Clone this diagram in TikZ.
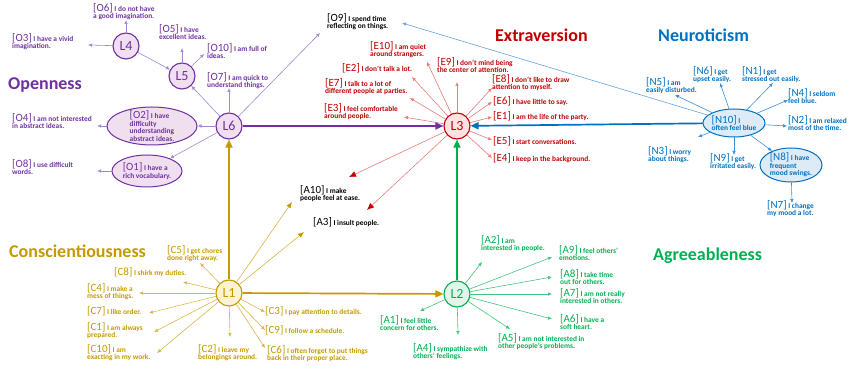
\documentclass[tikz,border=0pt]{standalone}
\usepackage{fontspec}
\setmainfont{Carlito}
\usetikzlibrary{arrows.meta, shapes.geometric}
\definecolor{ope}{HTML}{7030A0}
\definecolor{opl}{HTML}{A386D2}
\definecolor{opf}{HTML}{F0DFEF}
\definecolor{ext}{HTML}{C00000}
\definecolor{exl}{HTML}{E57C7C}
\definecolor{exf}{HTML}{FDE3E3}
\definecolor{neu}{HTML}{0070C0}
\definecolor{nel}{HTML}{3D8FD4}
\definecolor{nef}{HTML}{DDEBF7}
\definecolor{con}{HTML}{C49A00}
\definecolor{col}{HTML}{D9B64C}
\definecolor{cof}{HTML}{FFF4D0}
\definecolor{agr}{HTML}{00B050}
\definecolor{agl}{HTML}{45C47A}
\definecolor{agf}{HTML}{E3F5EA}
\newcommand{\ilab}[1]{\raisebox{0pt}[\height][0pt]{\mdseries\fontsize{11}{11}\selectfont[#1]}}
\tikzset{
  lat/.style={circle, line width=1.1pt, minimum size=26pt, inner sep=0pt, font=\fontsize{14}{14}\selectfont},
  itm/.style={anchor=north west, inner sep=0pt, align=left, font=\bfseries\fontsize{7.4}{7.6}\selectfont},
  ell/.style={ellipse, line width=1pt, inner sep=0pt},
  ttl/.style={anchor=base west, inner sep=0pt, font=\bfseries\fontsize{18}{18}\selectfont},
  arr/.style={-{Latex[length=4pt,width=3.6pt]}, line width=0.6pt},
  hvy/.style={-{Triangle[length=8pt,width=7pt]}, line width=1.7pt},
}

\begin{document}
\begin{tikzpicture}[x=1pt, y=-1pt]
  \useasboundingbox (0,0) rectangle (849,379);

  % Nadpisy
  \node[ttl, text=ope] (tO) at (8,90) {Openness};
  \node[ttl, text=ext] (tE) at (495,42) {Extraversion};
  \node[ttl, text=neu] (tN) at (658,42) {Neuroticism};
  \node[ttl, text=con] (tC) at (9,258) {Conscientiousness};
  \node[ttl, text=agr] (tA) at (653,261) {Agreeableness};

  % Latentni uzly
  \node[lat, draw=ope, fill=opf, text=ope] (L4) at (126,46) {L4};
  \node[lat, draw=ope, fill=opf, text=ope] (L5) at (182,76) {L5};
  \node[lat, draw=ope, fill=opf, text=ope] (L6) at (229,126) {L6};
  \node[lat, draw=ext, fill=exf, text=ext] (L3) at (457,126) {L3};
  \node[lat, draw=con, fill=cof, text=con] (L1) at (229,293) {L1};
  \node[lat, draw=agr, fill=agf, text=agr] (L2) at (457,294) {L2};

  % Elipsy
  \node[ell, draw=ope, fill=opf, minimum width=90pt, minimum height=38pt] (O2) at (152,126) {};
  \node[itm, anchor=center, text=ope] (o2) at (O2) {\ilab{O2} I have\\difficulty\\understanding\\abstract ideas.};
  \node[ell, draw=ope, fill=opf, minimum width=70pt, minimum height=32pt] (O1) at (147,171) {};
  \node[itm, anchor=center, text=ope] (o1) at (O1) {\ilab{O1} I have a\\rich vocabulary.};
  \node[ell, draw=neu, fill=nef, minimum width=62pt, minimum height=28pt] (N10) at (734,123) {};
  \node[itm, anchor=center, text=neu] (n10) at (N10) {\ilab{N10} I\\often feel blue};
  \node[ell, draw=neu, fill=nef, minimum width=62pt, minimum height=34pt] (N8) at (791,165) {};
  \node[itm, anchor=center, text=neu] (n8) at (N8) {\ilab{N8} I have\\frequent\\mood swings.};

  % Openness
  \node[itm, text=ope] (o6) at (93,3) {\ilab{O6} I do not have\\a good imagination.};
  \node[itm, text=ope] (o3) at (12,33) {\ilab{O3} I have a vivid\\imagination.};
  \node[itm, text=ope] (o5) at (159,24) {\ilab{O5} I have\\excellent ideas.};
  \node[itm, text=ope] (o10) at (207,43) {\ilab{O10} I am full of\\ideas.};
  \node[itm, text=ope] (o7) at (207,72) {\ilab{O7} I am quick to\\understand things.};
  \node[itm, text=ope] (o4) at (12,113) {\ilab{O4} I am not interested\\in abstract ideas.};
  \node[itm, text=ope] (o8) at (12,159) {\ilab{O8} I use difficult\\words.};
  \node[itm] (o9) at (327,13) {\ilab{O9} I spend time\\reflecting on things.};

  % Extraversion
  \node[itm, text=ext] (e10) at (370,41) {\ilab{E10} I am quiet\\around strangers.};
  \node[itm, text=ext] (e9) at (437,57) {\ilab{E9} I don't mind being\\the center of attention.};
  \node[itm, text=ext] (e2) at (342,63) {\ilab{E2} I don't talk a lot.};
  \node[itm, text=ext] (e7) at (325,78) {\ilab{E7} I talk to a lot of\\different people at parties.};
  \node[itm, text=ext] (e3) at (324,103) {\ilab{E3} I feel comfortable\\around people.};
  \node[itm, text=ext] (e8) at (492,74) {\ilab{E8} I don't like to draw\\attention to myself.};
  \node[itm, text=ext] (e6) at (493,96) {\ilab{E6} I have little to say.};
  \node[itm, text=ext] (e1) at (493,111) {\ilab{E1} I am the life of the party.};
  \node[itm, text=ext] (e5) at (493,136) {\ilab{E5} I start conversations.};
  \node[itm, text=ext] (e4) at (493,153) {\ilab{E4} I keep in the background.};
  \node[itm] (a10) at (300,185) {\ilab{A10} I make\\people feel at ease.};
  \node[itm] (a3) at (313,217) {\ilab{A3} I insult people.};

  % Neuroticism
  \node[itm, text=neu] (n6) at (693,66) {\ilab{N6} I get\\upset easily.};
  \node[itm, text=neu] (n1) at (742,66) {\ilab{N1} I get\\stressed out easily.};
  \node[itm, text=neu] (n5) at (646,77) {\ilab{N5} I am\\easily disturbed.};
  \node[itm, text=neu] (n4) at (788,88) {\ilab{N4} I seldom\\feel blue.};
  \node[itm, text=neu] (n2) at (788,115) {\ilab{N2} I am relaxed\\most of the time.};
  \node[itm, text=neu] (n3) at (648,146) {\ilab{N3} I worry\\about things.};
  \node[itm, text=neu] (n9) at (710,153) {\ilab{N9} I get\\irritated easily.};
  \node[itm, text=neu] (n7) at (767,200) {\ilab{N7} I change\\my mood a lot.};

  % Agreeableness
  \node[itm, text=agr] (a2) at (481,235) {\ilab{A2} I am\\interested in people.};
  \node[itm, text=agr] (a9) at (559,245) {\ilab{A9} I feel others'\\emotions.};
  \node[itm, text=agr] (a8) at (560,269) {\ilab{A8} I take time\\out for others.};
  \node[itm, text=agr] (a7) at (560,288) {\ilab{A7} I am not really\\interested in others.};
  \node[itm, text=agr] (a6) at (560,314) {\ilab{A6} I have a\\soft heart.};
  \node[itm, text=agr] (a5) at (498,333) {\ilab{A5} I am not interested in\\other people's problems.};
  \node[itm, text=agr] (a4) at (413,343) {\ilab{A4} I sympathize with\\others' feelings.};
  \node[itm, text=agr] (a1) at (380,315) {\ilab{A1} I feel little\\concern for others.};

  % Conscientiousness
  \node[itm, text=con] (c5) at (167,245) {\ilab{C5} I get chores\\done right away.};
  \node[itm, text=con] (c8) at (114,267) {\ilab{C8} I shirk my duties.};
  \node[itm, text=con] (c4) at (87,283) {\ilab{C4} I make a\\mess of things.};
  \node[itm, text=con] (c7) at (87,306) {\ilab{C7} I like order.};
  \node[itm, text=con] (c1) at (87,322) {\ilab{C1} I am always\\prepared.};
  \node[itm, text=con] (c10) at (87,344) {\ilab{C10} I am\\exacting in my work.};
  \node[itm, text=con] (c2) at (198,344) {\ilab{C2} I leave my\\belongings around.};
  \node[itm, text=con] (c3) at (265,306) {\ilab{C3} I pay attention to details.};
  \node[itm, text=con] (c9) at (265,325) {\ilab{C9} I follow a schedule.};
  \node[itm, text=con] (c6) at (267,345) {\ilab{C6} I often forget to put things\\back in their proper place.};

  % Konce sipek
  \foreach \n/\x/\y in {o6/126/20, o3/88/45, o5/182/48, o10/204/54, o7/229/88, o9/320/33, o4/97/126, o8/97/171,
      e10/427/62, e9/457/82, e2/412/77, e7/410/98, e3/404/117, e8/492/88, e6/492/102, e1/492/117, e5/492/140, e4/492/158,
      ra10/349/177, ra3/367/210, ga10/292/202, ga3/304/232, bo9/402/23,
      n6/720/83, n1/773/83, n5/675/95, n4/788/100, n2/787/126, n3/698/137, n9/734/155, n7/792/203,
      a2/482/262, a9/552/257, a8/552/277, a7/552/294, a6/552/319, a5/510/329, a4/458/335, a1/420/311,
      c5/200/263, c8/183/282, c4/139/293, c7/149/313, c1/154/332, c10/157/353, c2/230/337, c3/265/312, c9/265/330, c6/265/348}
    \coordinate (t\n) at (\x,\y);

  % Sipky k polozkam
  \foreach \t in {o6,o3} \draw[arr, opl] (L4) -- (t\t);
  \foreach \t in {o5,o10} \draw[arr, opl] (L5) -- (t\t);
  \foreach \t in {o7,o9} \draw[arr, opl] (L6) -- (t\t);
  \draw[arr, opl] (L4) -- (L5);
  \draw[arr, opl] (L6) -- (L5);
  \draw[arr, opl] (L6) -- (O2);
  \draw[arr, opl] (L6) -- (O1);
  \draw[arr, opl] (O2) -- (to4);
  \draw[arr, opl] (O1) -- (to8);
  \foreach \t in {e10,e9,e2,e7,e3,e8,e6,e1,e5,e4} \draw[arr, exl] (L3) -- (t\t);
  \foreach \t in {ra10,ra3} \draw[exl, line width=0.6pt, -{Latex[length=7pt,width=6pt,color=ext]}] (L3) -- (t\t);
  \foreach \t in {n6,n1,n5,n4,n2,n3,n9} \draw[arr, nel] (N10) -- (t\t);
  \draw[arr, nel] (N10) -- (N8);
  \draw[arr, nel] (N8) -- (tn7);
  \draw[arr, nel!80] (N10) -- (tbo9);
  \foreach \t in {a2,a9,a8,a7,a6,a5,a4,a1} \draw[arr, agl] (L2) -- (t\t);
  \foreach \t in {c5,c8,c4,c7,c1,c10,c2,c3,c9,c6} \draw[arr, col] (L1) -- (t\t);
  \foreach \t in {ga10,ga3} \draw[col, line width=0.6pt, -{Latex[length=6pt,width=5pt,color=con]}] (L1) -- (t\t);

  % Hlavni vazby
  \draw[hvy, ope] (L6) -- (L3);
  \draw[hvy, neu] (N10) -- (L3);
  \draw[hvy, con] (L1) -- (L6);
  \draw[hvy, con] (L1) -- (L2);
  \draw[hvy, agr] (L2) -- (L3);
\end{tikzpicture}
\end{document}
